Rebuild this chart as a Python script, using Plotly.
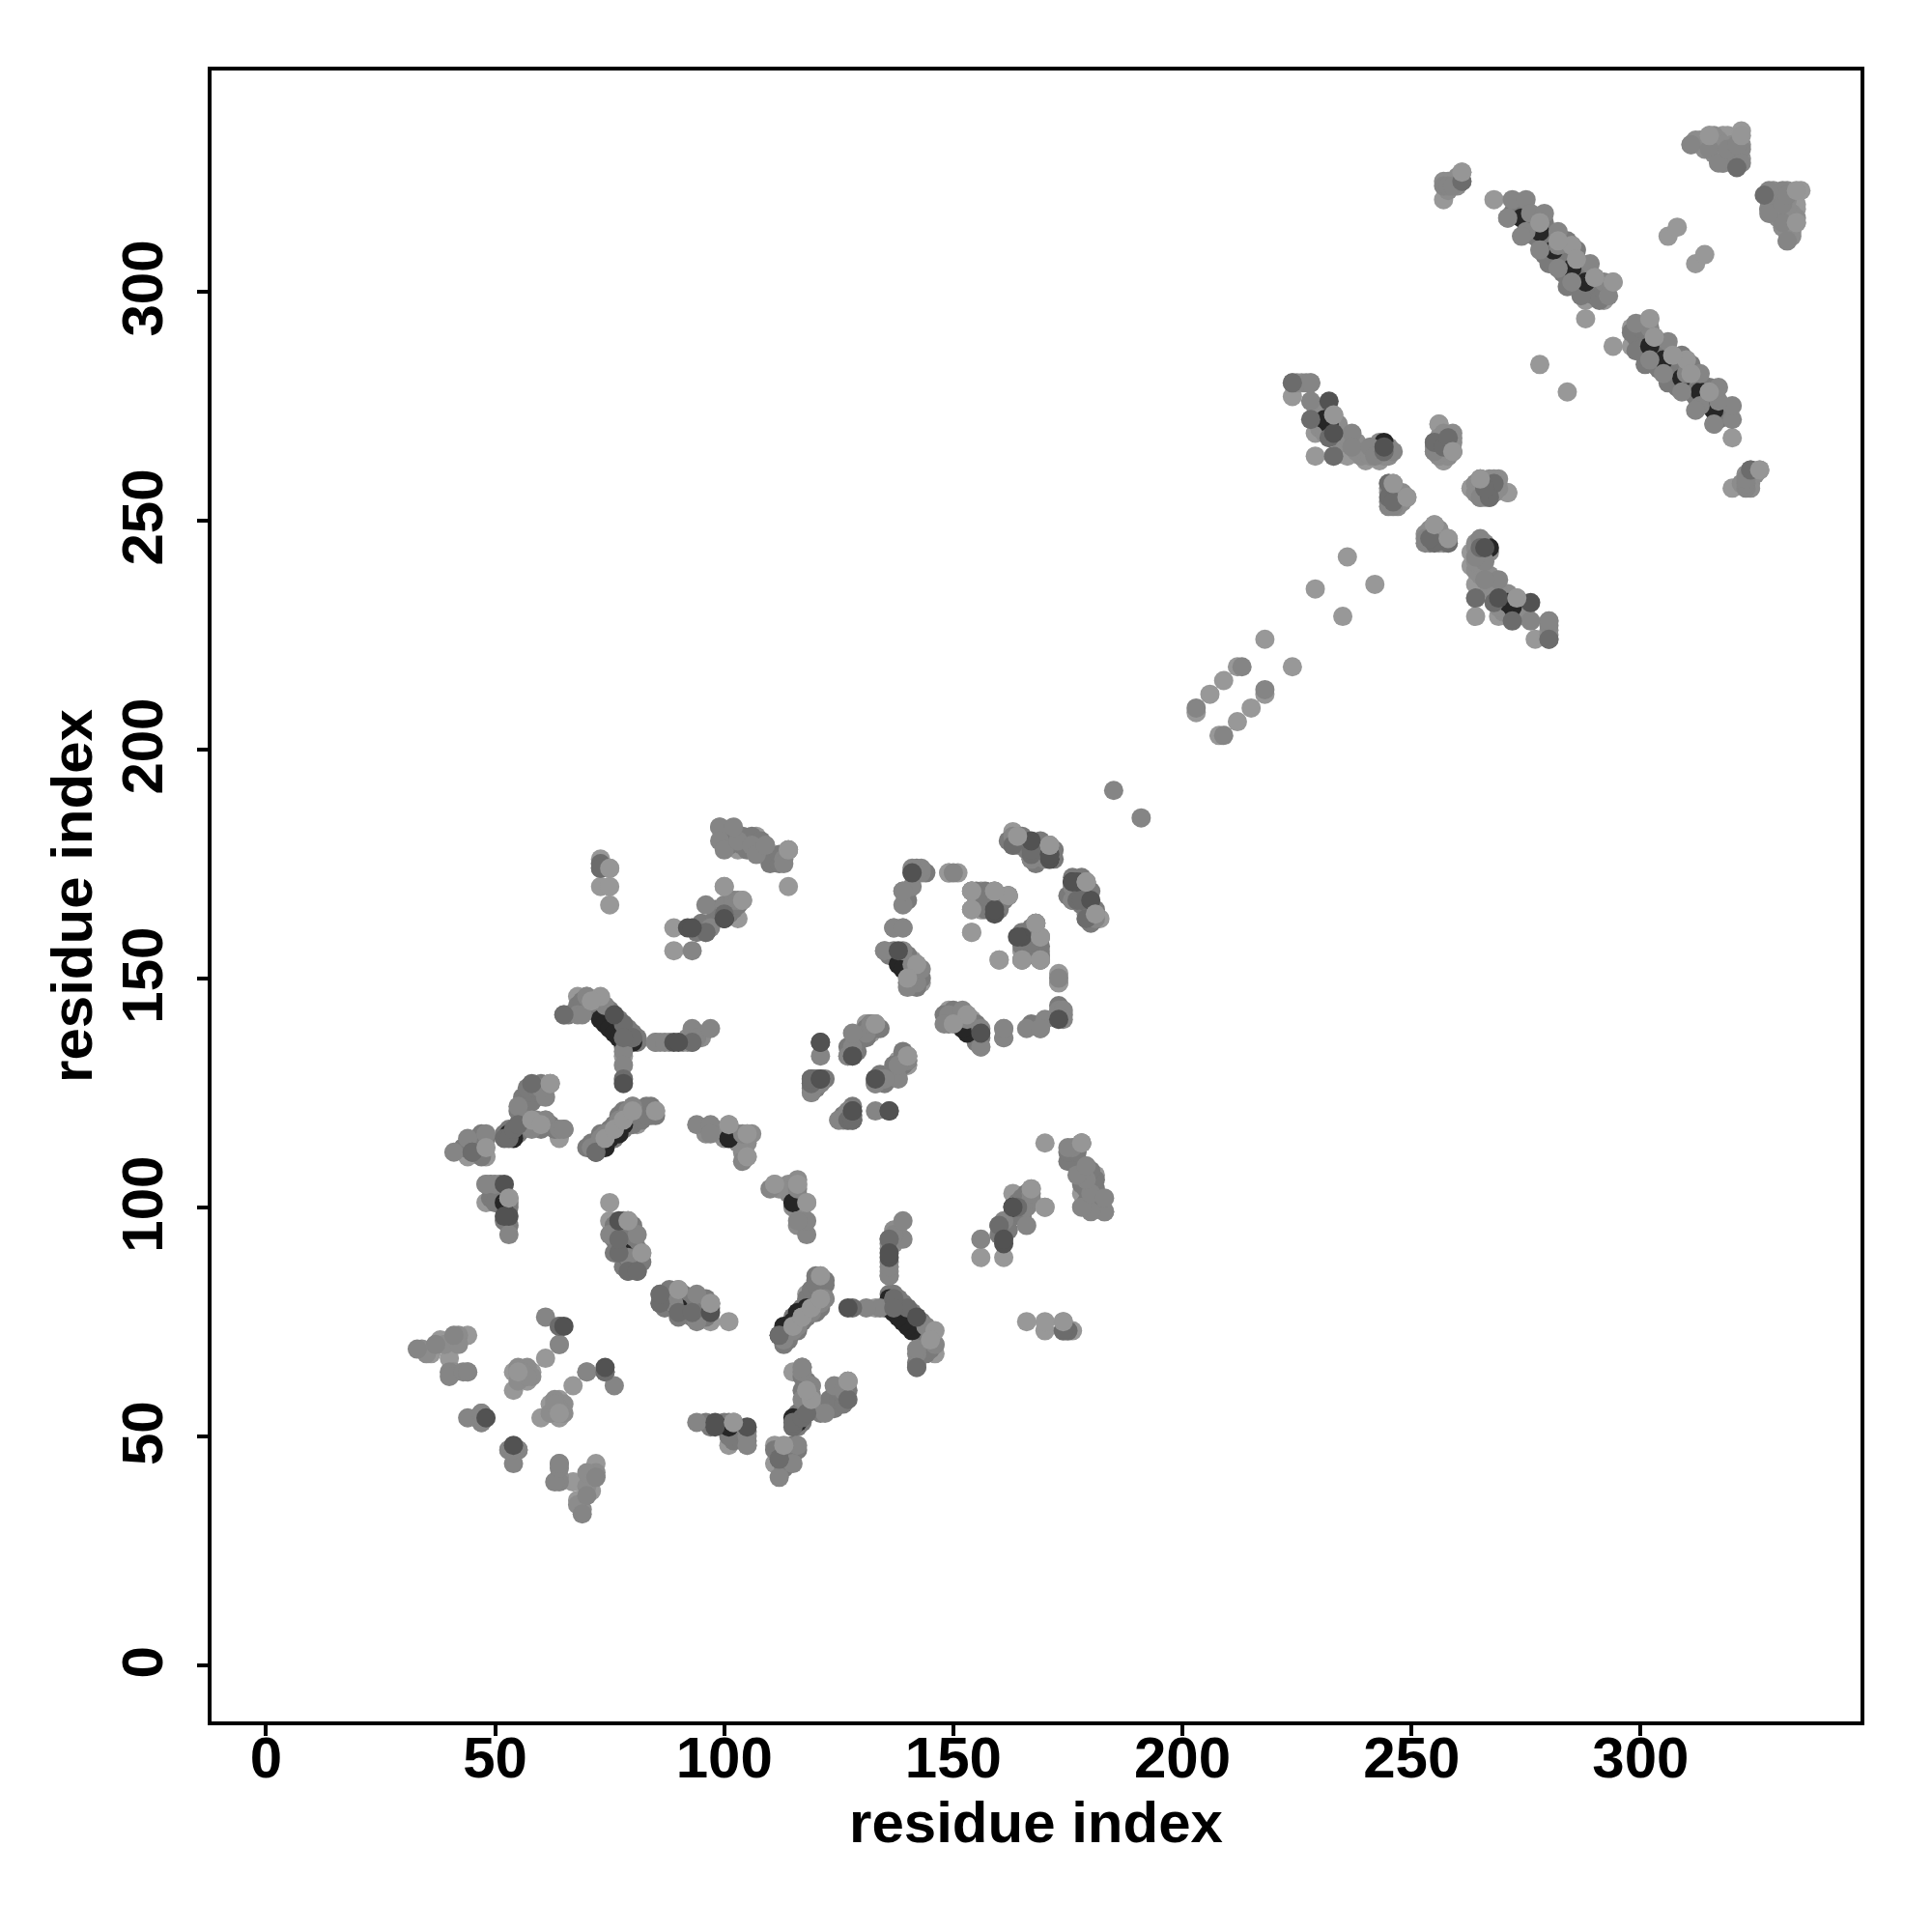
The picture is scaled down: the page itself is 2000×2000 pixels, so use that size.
import plotly.graph_objects as go

TICKS = [0, 50, 100, 150, 200, 250, 300]

# contacts (i < j); the map is symmetric, so each is also drawn as (j, i)
under_i = [52,73,74,75,76,77,78,80,72,74,75,77,78,53,54,100,101,79,78,231,232,274,278,281,285,288,244,171,177,140,138,139]
under_j = [101,141,140,139,138,137,136,136,112,113,115,116,118,116,115,163,115,89,90,272,271,316,313,309,305,302,267,176,171,151,153,152]

light_i = [36,38,40,40,44,48,48,46,44,48,54,54,56,57,58,57,61,64,47,55,53,65,68,70,72,61,64,65,59,62,56,81,85,82,80,75,75,79,82,78,85,101,105,105,
           73,75,73,75,75,89,89,96,100,104,103,114,114,99,103,107,109,111,119,127,131,133,132,133,138,140,140,135,141,143,
           149,151,154,156,162,154,156,154,160,168,169,165,169,173,163,164,171,182,179,176,
           203,206,209,212,218,229,236,224,228,229,233,229,233,236,240,243,245,247,249,256,255,257,259,263,265,271,
           257,261,268,271,285,292,294,288,278,288,306,308,311,315,318,319,322,316,321]
light_j = [68,71,67,71,72,105,101,115,111,111,64,60,63,64,64,62,67,70,53,47,47,117,146,146,145,119,115,117,124,127,123,118,121,120,122,101,97,97,90,133,136,118,116,111,
           176,174,170,170,166,161,156,160,170,167,163,178,170,183,178,181,179,176,125,133,140,140,138,127,132,133,131,156,154,149,
           173,173,169,169,168,165,165,160,154,162,159,156,154,149,181,181,179,163,164,167,
           208,212,215,218,224,235,242,277,280,269,273,264,264,264,263,263,256,256,255,271,265,263,265,257,255,256,
           320,326,320,316,310,298,302,294,284,298,312,314,332,334,334,334,335,332,330]

fill_i = [71,72,73,73,74,75,76,76,77,77,78,78,78,79,79,80,80,81,81,82,82,83,84,84,85,83,71,70,
          66,68,69,70,71,71,72,73,74,75,75,76,76,77,77,78,78,79,79,80,81,81,78,
          272,273,274,275,276,277,277,278,279,279,280,280,281,281,282,283,283,284,284,285,286,286,286,287,287,288,288,289,289,290,291,291,292,284,283,279,280,284,287,
          43,46,47,47,46,47,48,52,53,55,56,56,57,58,59,60,60,62,63,55,56,56,57,58,58,57,59,60,60,61,
          49,50,49,51,53,53,52,52,53,76,76,78,78,78,80,80,76,80,80,78,80,82,79,81,76,
          100,100,101,101,102,104,104,105,105,106,108,108,110,110,112,112,94,95,98,98,99,101,101,102,103,94,
          120,120,120,122,126,126,128,127,131,132,132,129,129,134,135,133,137,139,139,139,140,
          137,136,138,139,140,140,141,141,142,142,142,140,141,142,143,142,142,144,140,140,
          155,157,158,157,160,160,158,166,167,167,166,168,168,
          162,163,164,165,168,168,170,172,172,169,175,178,178,176,178,178,179,180,180,180,181,177]
fill_j = [113,114,113,116,116,117,115,118,118,120,117,119,121,119,120,118,120,120,121,119,121,122,122,120,120,120,114,113,
          142,144,145,144,145,143,143,143,142,143,141,141,140,139,141,138,139,139,137,138,137,136,135,
          317,318,318,316,314,316,312,311,315,311,313,309,307,312,308,310,306,311,307,308,309,304,302,305,306,304,300,303,300,299,301,298,300,303,304,308,306,301,299,
          113,112,111,114,113,116,115,116,117,116,117,119,118,119,118,118,117,118,117,121,122,124,124,123,125,126,126,125,127,126,
          102,101,105,105,100,101,100,97,96,96,93,95,93,97,96,94,90,90,88,87,87,88,92,91,95,
          180,182,181,179,181,181,179,180,178,181,180,178,177,175,175,177,161,162,165,163,164,164,166,165,166,160,
          127,128,126,128,120,119,120,120,139,139,140,136,134,139,127,128,131,132,131,133,132,
          156,155,155,154,153,155,152,151,153,150,151,149,149,148,150,174,173,173,169,167,
          169,169,165,165,165,167,167,158,161,158,155,155,157,
          180,180,180,179,178,176,178,178,176,176,168,168,170,171,171,166,166,165,163,169,165,169]

fill2_i = [225,226,229,230,230,231,232,230,231,233,234,234,235,235,236,238,238,239,239,240,241,243,244,245,245,243,
           245,246,246,247,247,247,248,248,256,256,257,257,258,258,259,255,256,264,266,266,264,265,268,269,269,268,
           258,258,259,260,260,260,257,312,313,314,315,316,316,317,317,317,318,318,319,320,320,320,322,322,313,314,
           34,35,39,42,42,41,44,55,55,55,57,58,56,57,86,88,91,92,94,95,92,96,98,99,100,102,102,103,103,105,104,106]
fill2_j = [280,280,275,274,272,274,274,270,269,271,271,269,268,267,268,265,267,265,264,265,264,265,264,266,264,267,
           257,258,255,254,255,253,256,254,268,264,267,265,266,264,267,266,265,256,258,256,258,257,256,257,259,259,
           322,324,324,323,325,324,324,333,332,333,332,330,334,333,331,329,332,328,329,328,330,332,332,329,333,331,
           69,68,70,72,70,64,64,64,62,65,65,63,64,63,136,136,136,136,138,137,137,116,117,116,115,116,115,116,114,114,112,116]

mid_i = [33,37,40,40,41,43,44,47,47,53,54,55,61,64,64,41,44,48,55,57,58,61,64,65,61,55,59,60,62,50,48,53,53,
         65,68,69,70,74,78,78,71,73,74,76,77,79,80,85,87,93,93,94,97,94,97,97,104,104,
         75,79,81,77,79,81,79,73,73,93,96,97,96,100,100,102,103,99,99,100,103,102,106,107,109,113,114,113,
         119,119,127,125,127,127,128,131,134,138,140,133,142,140,143,141,139,135,139,137,139,139,141,143,141,143,141,139,137,139,
         159,159,162,165,165,169,173,163,167,167,170,171,176,176,177,179,181,
         185,203,213,224,227,228,228,237,237,241,242,246,245,245,245,246,255,255,258,265,267,267,
         257,258,259,261,272,275,271,276,279,275,274,278,282,282,278,282,289,285,290,292,293,
         311,315,318,317,321,321,319,322,322,321]
mid_j = [69,70,64,63,72,64,64,55,54,47,44,47,76,74,70,112,115,116,118,119,117,119,117,117,124,122,119,126,127,105,105,102,94,
         142,142,142,146,144,134,131,113,115,116,117,119,121,122,136,136,139,136,137,139,118,118,116,116,110,
         94,89,94,93,86,86,97,175,174,156,160,161,166,166,164,167,167,183,180,178,180,183,179,177,179,176,178,175,
         128,127,119,119,121,133,135,138,128,128,132,121,149,148,152,153,156,156,161,161,166,169,170,173,173,174,174,169,161,161,
         169,165,168,159,154,154,150,179,179,176,177,177,170,167,167,171,163,
         191,209,218,280,280,280,276,269,266,266,264,265,258,253,254,253,267,265,268,259,255,257,
         323,323,323,324,320,320,316,317,317,313,312,315,313,305,309,310,306,302,303,302,299,
         332,331,328,328,328,330,331,331,328,332]

mdark_i = [45,52,53,54,55,58,64,45,78,80,78,73,73,80,78,77,77,79,81,100,96,167,167,119,127,128,163,224,228,232,233,244,255,257,261,321,258,245,246,268,65,72,93]
mdark_j = [112,115,115,117,118,127,74,112,128,137,140,175,174,137,137,90,93,86,86,164,160,177,178,128,119,119,179,280,272,268,264,265,267,266,324,327,245,255,254,258,142,112,136]

dark_i = [65,48,52,53,52,76,77,89,90,92,93,100,121,121,128,136,128,159,165,232,233,244,171,177,180,78,138,141]
dark_j = [74,54,105,98,98,142,97,136,136,161,161,163,136,128,121,121,133,164,159,276,269,266,176,171,167,127,156,173]

top_i = [53,101,105,105,79,82,62,85,75,100,104,114,171,179,164,169,162,154,165,233,249,259,246,285,294,261,315,322,140,133,
         74,76,78,80,278,282,286,290,142,140,73,71,58,60,48,55]
top_j = [102,118,116,111,97,90,127,121,174,170,167,178,179,171,181,159,168,169,154,273,255,265,258,310,302,326,334,334,133,140,
         115,117,119,121,315,311,307,303,153,150,146,145,119,118,113,64]

tiers = [(light_i, light_j, "#989898"), (fill_i, fill_j, "#7a7a7a"), (fill2_i, fill2_j, "#8c8c8c"),
         (under_i, under_j, "#262626"), (mid_i, mid_j, "#858585"),
         (mdark_i, mdark_j, "#6c6c6c"), (dark_i, dark_j, "#525252"), (top_i, top_j, "#969696")]

fig = go.Figure()
for ci, cj, colour in tiers:
    fig.add_trace(go.Scatter(x=ci + cj, y=cj + ci, mode="markers", showlegend=False,
                             marker=dict(size=20, color=colour, line=dict(width=0))))

axis = dict(tickmode="array", tickvals=TICKS, ticktext=[str(t) for t in TICKS], ticks="outside",
            ticklen=11, tickwidth=4, tickcolor="black", showline=True, linewidth=4, linecolor="black",
            mirror=True, showgrid=False, zeroline=False,
            tickfont=dict(family="Liberation Sans", size=60, color="black", weight="bold"))
fig.update_layout(
    width=2000, height=2000, paper_bgcolor="white", plot_bgcolor="white", showlegend=False,
    margin=dict(l=211, r=82, t=65, b=226, autoexpand=False),
    font=dict(family="Liberation Sans", color="black"),
    xaxis=dict(axis, range=[-11.9, 348], ticklabelstandoff=-29,
               title=dict(text="<b>residue index</b>", font=dict(size=60), standoff=14)),
    yaxis=dict(axis, range=[-12.3, 348.2], tickangle=-90, ticklabelstandoff=12, ticklabelshift=6,
               title=dict(text="<b>residue index</b>", font=dict(size=60), standoff=0)),
)
fig.write_html("out.html")
